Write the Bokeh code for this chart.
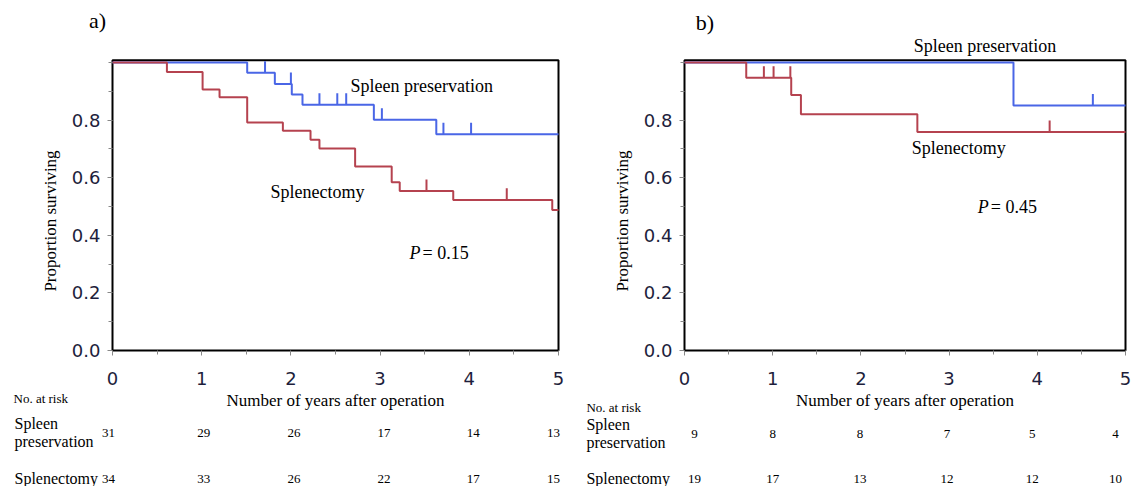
from bokeh.plotting import figure
from bokeh.models import Range1d, FixedTicker, PrintfTickFormatter, LinearAxis
from bokeh.core.properties import value
from bokeh.layouts import row
from bokeh.embed import file_html
from bokeh.resources import INLINE

# ---------------- data ----------------
risk_years = [0, 1, 2, 3, 4, 5]

# panel a) Kaplan-Meier
a_pres_times = [1.51, 1.82, 2.01, 2.13, 2.93, 3.63]
a_pres_surv = [0.964, 0.925, 0.889, 0.853, 0.801, 0.751]
a_pres_cens = [1.71, 2.00, 2.32, 2.52, 2.62, 3.02, 3.71, 4.02]

a_spl_times = [0.61, 1.01, 1.20, 1.51, 1.91, 2.22, 2.32, 2.72, 3.13, 3.22, 3.82, 4.93]
a_spl_surv = [0.967, 0.906, 0.879, 0.792, 0.763, 0.732, 0.701, 0.639, 0.584, 0.554, 0.523, 0.488]
a_spl_cens = [3.52, 4.42]

a_pres_risk = [31, 29, 26, 17, 14, 13]
a_spl_risk = [34, 33, 26, 22, 17, 15]
a_pvalue = "0.15"

# panel b) Kaplan-Meier
b_pres_times = [3.73]
b_pres_surv = [0.851]
b_pres_cens = [4.63]

b_spl_times = [0.70, 1.21, 1.32, 2.64]
b_spl_surv = [0.947, 0.887, 0.820, 0.759]
b_spl_cens = [0.90, 1.01, 1.20, 4.14]

b_pres_risk = [9, 8, 8, 7, 5, 4]
b_spl_risk = [19, 17, 13, 12, 12, 10]
b_pvalue = "0.45"

x_ticks = [0, 1, 2, 3, 4, 5]
x_minor = [0.5, 1.5, 2.5, 3.5, 4.5]
y_ticks = [0, 0.2, 0.4, 0.6, 0.8]
y_minor = [0.1, 0.3, 0.5, 0.7, 0.9, 1.0]

# ---------------- style ----------------
BLUE = "#4a66e6"
RED = "#b5424f"
SERIF = "Liberation Serif"
SANS = "DejaVu Sans"
TICKCOL = "#1e1e3c"
FIG_H = 486
Y0_PX, Y1_PX = 350, 62          # pixel rows of survival 0 and 1
UPY = Y0_PX - Y1_PX
XMAX = 5
BOX_TOP = 1.008
CENS_H = 0.04


def surv_at(times, surv, t):
    s = 1.0
    for ti, si in zip(times, surv):
        if ti <= t:
            s = si
    return s


def make_panel(fig_left, width, fx0, ppy, ref_x0, ref_ppy, tag, data, txt):
    x_rng = Range1d((fig_left - fx0) / ppy, (fig_left + width - fx0) / ppy)
    y_rng = Range1d((Y0_PX - FIG_H) / UPY, Y0_PX / UPY)
    p = figure(width=width, height=FIG_H, x_range=x_rng, y_range=y_rng,
               x_axis_location=None, y_axis_location=None,
               output_backend="svg", toolbar_location=None,
               min_border=0, min_border_left=0, min_border_right=0,
               min_border_top=0, min_border_bottom=0)
    p.xgrid.visible = False
    p.ygrid.visible = False
    p.outline_line_color = None
    p.background_fill_color = "white"
    p.border_fill_color = "white"

    # axes placed at the data origin
    xax = LinearAxis(fixed_location=0, bounds=(0, XMAX),
                     ticker=FixedTicker(ticks=x_ticks, minor_ticks=x_minor),
                     axis_label="Number of years after operation")
    yax = LinearAxis(fixed_location=0, bounds=(-0.1, 1.0),
                     ticker=FixedTicker(ticks=y_ticks, minor_ticks=y_minor),
                     formatter=PrintfTickFormatter(format="%.1f"),
                     axis_label="Proportion surviving")
    for ax in (xax, yax):
        ax.axis_line_color = None
        ax.major_tick_line_color = "#888888"
        ax.minor_tick_line_color = "#888888"
        ax.major_tick_out = 5
        ax.major_tick_in = 0
        ax.minor_tick_out = 4
        ax.minor_tick_in = 0
        ax.major_label_text_font = SANS
        ax.major_label_text_font_size = "18px"
        ax.major_label_text_color = TICKCOL
        ax.axis_label_text_font = SERIF
        ax.axis_label_text_font_size = "17px"
        ax.axis_label_text_font_style = "normal"
        ax.axis_label_text_color = "black"
    xax.major_label_standoff = 16
    xax.axis_label_standoff = 3
    yax.major_label_standoff = 7
    yax.axis_label_standoff = 9
    p.add_layout(xax, "below")
    p.add_layout(yax, "left")

    # plot frame
    p.quad(left=[0], right=[XMAX], bottom=[0], top=[BOX_TOP], fill_color=None,
           line_color="black", line_width=2)

    (pt, ps, pc, st, ss, sc, prisk, srisk) = data
    for times, surv, cens, col in ((pt, ps, pc, BLUE), (st, ss, sc, RED)):
        xs = [0] + list(times) + [XMAX]
        ys = [1.0] + list(surv) + [surv[-1]]
        p.step(xs, ys, mode="after", line_color=col, line_width=2)
        lev = [surv_at(times, surv, c) for c in cens]
        p.segment(x0=cens, y0=lev, x1=cens, y1=[v + CENS_H for v in lev],
                  line_color=col, line_width=2)

    def d(px, py):
        return (px - ref_x0) / ref_ppy, (Y0_PX - py) / UPY

    def lab(text, pos, size, align="left", style="normal", xoff=0):
        x, y = d(*pos)
        p.text(x=[x], y=[y], text=[text], text_font=value(SERIF), text_font_size=value(size),
               text_font_style=style, text_align=align, text_baseline="middle",
               text_color="black", x_offset=xoff)

    lab(tag, txt["tag"], "22px", align="center")
    lab("Spleen preservation", txt["pres"], "18px")
    lab("Splenectomy", txt["spl"], "18px")
    lab("P", txt["p"], "18px", style="italic")
    lab("= " + txt["pval"], txt["p"], "18px", xoff=13)
    lab("No. at risk", txt["noat"], "13px")
    lab("Spleen", (txt["rowlab"], txt["r1"] - 9), "16px")
    lab("preservation", (txt["rowlab"], txt["r1"] + 9), "16px")
    lab("Splenectomy", (txt["rowlab"], txt["r2"]), "16px")

    for risk, py in ((prisk, txt["r1"]), (srisk, txt["r2"])):
        yv = d(0, py)[1]
        p.text(x=risk_years, y=[yv] * len(risk_years), text=[str(v) for v in risk],
               text_font=value(SERIF), text_font_size=value("13px"),
               text_align="center", text_baseline="middle", text_color="black",
               x_offset=txt["xoff"])
    return p


pa = make_panel(0, 570, 112, 89.2, 112, 89.2, "a)",
                (a_pres_times, a_pres_surv, a_pres_cens, a_spl_times, a_spl_surv, a_spl_cens,
                 a_pres_risk, a_spl_risk),
                dict(tag=(97, 20), pres=(350, 85), spl=(270, 191), p=(409, 252), pval=a_pvalue,
                     noat=(13, 398), rowlab=14, r1=432, r2=478,
                     xoff=[-4, 2, 3, 4, 4, -5]))

pb = make_panel(570, 561, 684, 88.2, 686, 90.8, "b)",
                (b_pres_times, b_pres_surv, b_pres_cens, b_spl_times, b_spl_surv, b_spl_cens,
                 b_pres_risk, b_spl_risk),
                dict(tag=(707, 22), pres=(922, 45), spl=(920, 147), p=(988, 206), pval=b_pvalue,
                     noat=(585, 407), rowlab=585, r1=433, r2=478,
                     xoff=[10, 0, -1, -2, -5, -10]))

layout = row(pa, pb)
open("out.html", "w").write(file_html(layout, INLINE))
